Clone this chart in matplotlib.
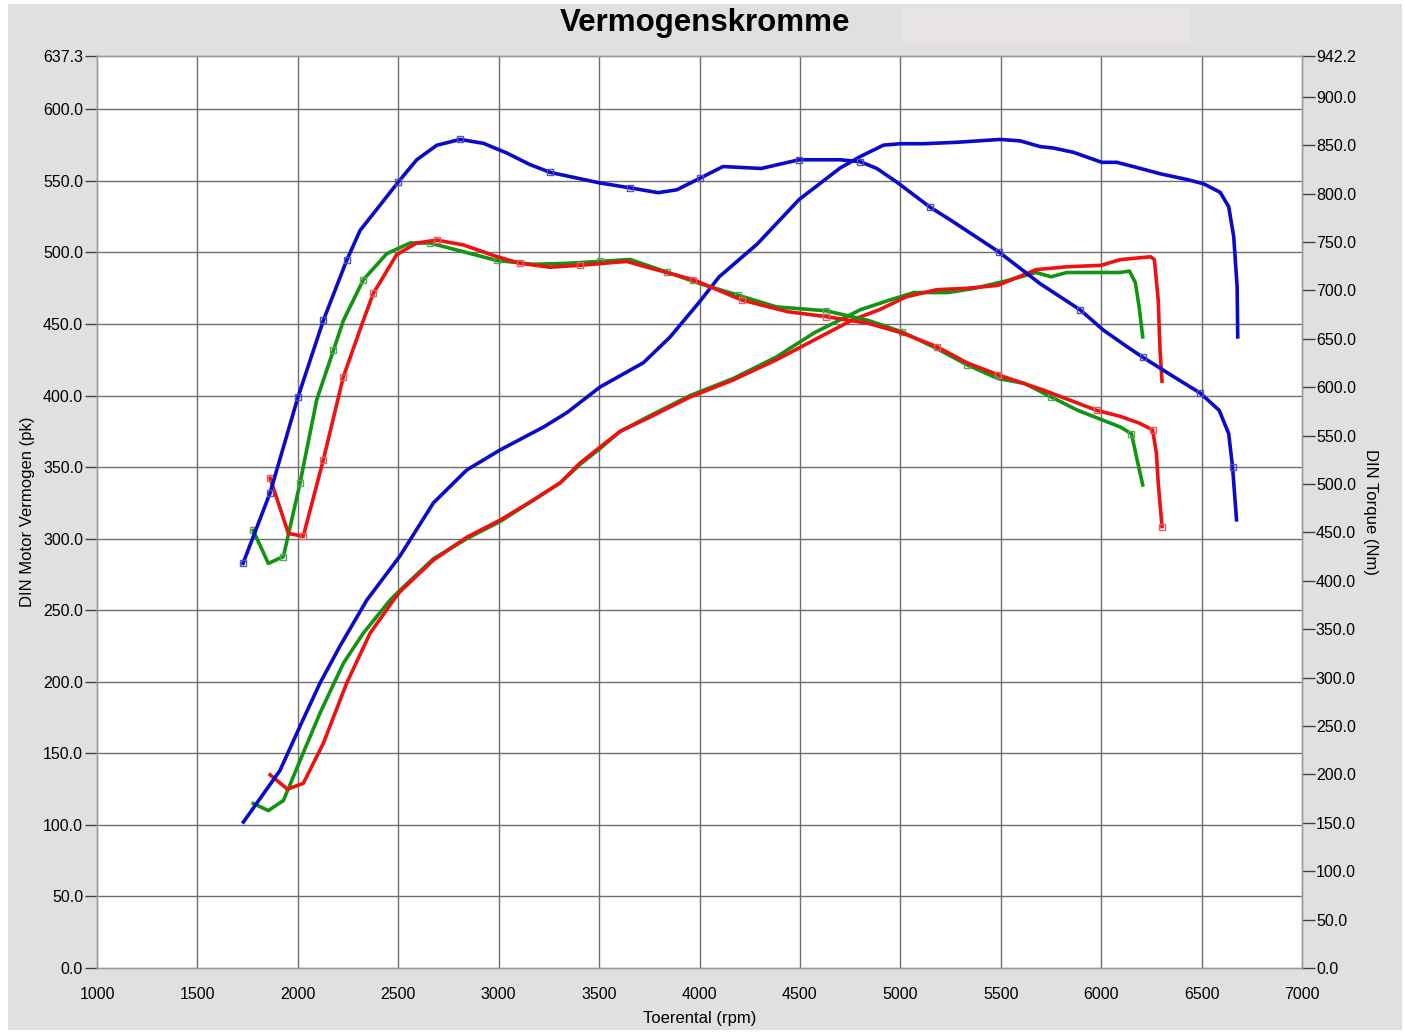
import matplotlib
matplotlib.use("Agg")
import matplotlib.pyplot as plt
from matplotlib.patches import Rectangle

plt.rcParams["font.family"] = ["Liberation Sans", "DejaVu Sans"]

# run 1 (blauw)
blue_tq_rpm = [1727, 1862, 2001, 2127, 2243, 2310, 2409, 2500, 2592, 2692, 2808, 2924, 3040,
               3156, 3256, 3505, 3654, 3794, 3887, 4003, 4117, 4307, 4496, 4700, 4800, 4883,
               4982, 5148, 5248, 5489, 5696, 5895, 6011, 6128, 6207, 6360, 6493, 6588, 6635,
               6654, 6674]
blue_tq = [418, 491, 590, 669, 731, 762, 788, 812, 835, 850, 856, 852, 842,
           830, 822, 811, 806, 801, 804, 816, 828, 826, 835, 835, 833, 826,
           812, 786, 773, 740, 707, 680, 659, 642, 631, 611, 594, 576, 552,
           518, 463]
blue_pk_rpm = [1729, 1911, 2011, 2110, 2210, 2343, 2509, 2675, 2841, 3007, 3223, 3339, 3505,
               3721, 3854, 4003, 4098, 4288, 4496, 4700, 4800, 4916, 4999, 5115, 5281, 5497,
               5596, 5696, 5762, 5862, 6003, 6078, 6161, 6294, 6427, 6510, 6593, 6635, 6660,
               6677, 6680]
blue_pk = [102, 138, 169, 199, 225, 257, 288, 325, 348, 362, 378, 388, 406,
           423, 441, 466, 483, 506, 537, 559, 567, 575, 576, 576, 577, 579,
           578, 574, 573, 570, 563, 563, 560, 555, 551, 548, 542, 532, 511,
           476, 441]

# run 2 (rood)
red_tq_rpm = [1862, 1953, 2027, 2127, 2227, 2326, 2376, 2492, 2592, 2692, 2824, 2990, 3107,
              3256, 3406, 3638, 3704, 3970, 4212, 4440, 4630, 4840, 5010, 5181, 5334, 5485,
              5713, 5979, 6094, 6189, 6256, 6275, 6284, 6303]
red_tq = [506, 449, 446, 525, 611, 669, 697, 737, 749, 752, 747, 735, 728,
          724, 726, 730, 726, 711, 690, 678, 673, 666, 656, 642, 625, 613,
          597, 576, 570, 563, 556, 532, 501, 456]
red_pk_rpm = [1862, 1948, 2027, 2127, 2243, 2360, 2476, 2509, 2675, 2841, 3007, 3173, 3306,
              3406, 3505, 3605, 3754, 3953, 4169, 4383, 4573, 4763, 4896, 5029, 5181, 5334,
              5485, 5676, 5828, 5999, 6094, 6246, 6265, 6284, 6293, 6303]
red_pk = [135, 125, 129, 157, 199, 234, 257, 263, 285, 301, 313, 327, 339,
          353, 364, 375, 385, 399, 411, 425, 439, 453, 460, 469, 474, 475,
          477, 488, 490, 491, 495, 497, 495, 467, 432, 410]

# run 3 (groen)
green_tq_rpm = [1778, 1853, 1928, 2011, 2094, 2177, 2227, 2326, 2443, 2559, 2658, 2824, 2990,
                3173, 3339, 3505, 3654, 3837, 4003, 4193, 4383, 4630, 4840, 5010, 5181, 5334,
                5485, 5618, 5751, 5885, 6094, 6151, 6179, 6207]
green_tq = [452, 418, 425, 501, 587, 638, 669, 711, 738, 749, 749, 740, 731,
            727, 728, 730, 732, 719, 707, 695, 683, 679, 669, 657, 640, 623,
            609, 604, 590, 576, 559, 552, 525, 499]
green_pk_rpm = [1778, 1853, 1928, 2011, 2110, 2227, 2326, 2459, 2509, 2675, 2841, 3007, 3173,
                3306, 3406, 3505, 3605, 3754, 3953, 4169, 4383, 4573, 4801, 4953, 5067, 5238,
                5371, 5523, 5676, 5751, 5828, 6094, 6141, 6170, 6189, 6207]
green_pk = [115, 110, 117, 145, 178, 213, 234, 257, 264, 286, 300, 312, 327,
            339, 352, 363, 375, 386, 400, 412, 427, 444, 460, 467, 472, 472,
            475, 480, 486, 483, 486, 486, 487, 479, 462, 441]

pk_ticks = [0, 50, 100, 150, 200, 250, 300, 350, 400, 450, 500, 550, 600, 637.3]
nm_ticks = [0, 50, 100, 150, 200, 250, 300, 350, 400, 450, 500, 550, 600, 650, 700, 750,
            800, 850, 900, 942.2]
rpm_ticks = [1000, 1500, 2000, 2500, 3000, 3500, 4000, 4500, 5000, 5500, 6000, 6500, 7000]

fig = plt.figure(figsize=(14.05, 10.32), dpi=100, facecolor="#e0e0e0")
# smalle witte rand zoals in het origineel
fig.patches.append(Rectangle((0, 0), 8 / 1405, 1, transform=fig.transFigure,
                             facecolor="white", edgecolor="none", zorder=-10))
fig.patches.append(Rectangle((0, 1 - 4 / 1032), 1, 4 / 1032, transform=fig.transFigure,
                             facecolor="white", edgecolor="none", zorder=-10))
fig.patches.append(Rectangle((1 - 3 / 1405, 0), 3 / 1405, 1, transform=fig.transFigure,
                             facecolor="white", edgecolor="none", zorder=-10))
fig.patches.append(Rectangle((0, 0), 1, 2 / 1032, transform=fig.transFigure,
                             facecolor="white", edgecolor="none", zorder=-10))
fig.patches.append(Rectangle((903 / 1405, 989 / 1032), 287 / 1405, 35 / 1032,
                             transform=fig.transFigure, facecolor="#e8e4e6",
                             edgecolor="none", zorder=-10))

ax = fig.add_axes([97 / 1405, 64 / 1032, 1205 / 1405, 912 / 1032])
ax.set_facecolor("white")
ax2 = ax.twinx()

ax.set_xlim(1000, 7000)
ax.set_ylim(0, 637.3)
ax2.set_ylim(0, 942.2)

grid_col = "#6e6e6e"
for x in rpm_ticks[1:-1]:
    ax.axvline(x, color=grid_col, lw=1.0, zorder=1)
for y in pk_ticks[1:-1]:
    ax.axhline(y, color=grid_col, lw=1.0, zorder=1)

ax.set_xticks(rpm_ticks)
ax.set_yticks(pk_ticks)
ax.set_yticklabels([f"{v:.1f}" for v in pk_ticks])
ax2.set_yticks(nm_ticks)
ax2.set_yticklabels([f"{v:.1f}" for v in nm_ticks])

ax.tick_params(axis="x", length=0, pad=14, labelsize=11.5)
ax.tick_params(axis="y", length=9, width=1, color="#404040", pad=1, labelsize=11.5)
ax2.tick_params(axis="y", length=9, width=1, color="#404040", pad=1, labelsize=11.5)

for a in (ax, ax2):
    for s in a.spines.values():
        s.set_color("#9a9a9a")
        s.set_linewidth(1.0)

colors = {"blue": "#0a0ac8", "red": "#ee1111", "green": "#129412"}
lw = 2.6

ax.plot(green_pk_rpm, green_pk, color=colors["green"], lw=lw, zorder=3)
ax.plot(red_pk_rpm, red_pk, color=colors["red"], lw=lw, zorder=3)
ax.plot(blue_pk_rpm, blue_pk, color=colors["blue"], lw=lw, zorder=4)

mk = dict(marker="s", ms=5, mfc="none", mew=1.0, markevery=0.055)
ax2.plot(green_tq_rpm, green_tq, color=colors["green"], lw=lw, mec="#55aa55", **mk)
ax2.plot(red_tq_rpm, red_tq, color=colors["red"], lw=lw, mec="#e06060", **mk)
ax2.plot(blue_tq_rpm, blue_tq, color=colors["blue"], lw=lw, mec="#5050c0", **mk)

ax.set_xlabel("Toerental (rpm)", fontsize=12, labelpad=6)
ax.set_ylabel("DIN Motor Vermogen (pk)", fontsize=12, labelpad=6)
ax2.set_ylabel("DIN Torque (Nm)", fontsize=12, rotation=270, labelpad=16)

fig.text(705 / 1405, 1 - 23 / 1032, "Vermogenskromme", ha="center", va="center",
         fontsize=22.5, fontweight="bold")

fig.savefig("out.png", dpi=100, facecolor=fig.get_facecolor())
